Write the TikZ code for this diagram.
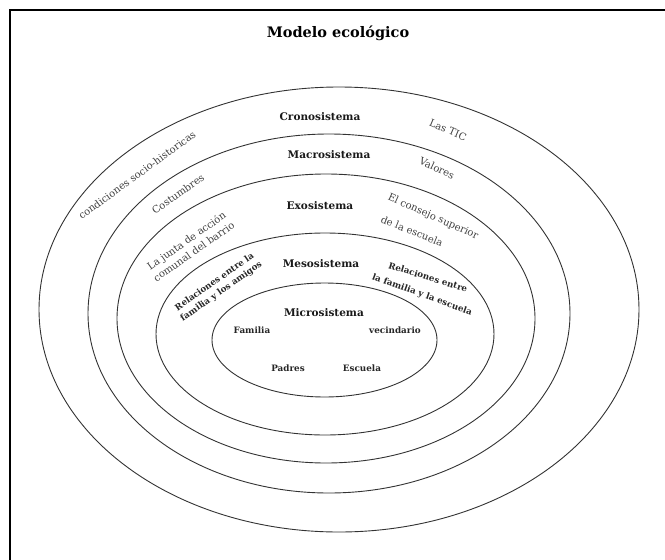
\documentclass[tikz,border=0pt]{standalone}
\usepackage{fontspec}
\setmainfont{DejaVu Serif}
\begin{document}
\begin{tikzpicture}[x=1pt,y=-1pt,
  ring/.style={draw=black!80, line width=0.9pt},
  sys/.style={font=\bfseries\fontsize{10.5}{12}\selectfont, text=black!90, inner sep=0pt},
  lab/.style={font=\fontsize{10}{13}\selectfont, text=black!75, inner sep=0pt, align=center},
  blab/.style={font=\bfseries\fontsize{8.7}{11.5}\selectfont, text=black!85, inner sep=0pt, align=center},
  item/.style={font=\bfseries\fontsize{8.8}{10}\selectfont, text=black!85, inner sep=0pt}]
\useasboundingbox (0,0) rectangle (665,560);
\draw[line width=2pt, line join=miter] (10,560) -- (10,10) -- (665,10);
\node[font=\bfseries\fontsize{14.5}{17}\selectfont, inner sep=0pt] (title) at (338,33) {Modelo ecológico};
% rings
\draw[ring] (339,309.5) ellipse [x radius=300pt, y radius=222.5pt];
\draw[ring] (329,313.5) ellipse [x radius=241pt, y radius=179.5pt];
\draw[ring] (326,318.5) ellipse [x radius=209pt, y radius=144.5pt];
\draw[ring] (325,334) ellipse [x radius=169pt, y radius=101pt];
\draw[ring] (324.5,340) ellipse [x radius=112.5pt, y radius=57pt];
% system names
\node[sys] (cro) at (320,117) {Cronosistema};
\node[sys] (mac) at (329,155) {Macrosistema};
\node[sys] (exo) at (320,206) {Exosistema};
\node[sys] (mes) at (321,264) {Mesosistema};
\node[sys] (mic) at (324,313) {Microsistema};
% left labels
\node[lab, rotate=36] (csh) at (137,175) {condiciones socio-historicas};
\node[lab, rotate=35] (cos) at (178,194) {Costumbres};
\node[lab, rotate=35] (jac) at (190,246) {La junta de acción\\comunal del barrio};
\node[blab, rotate=35] (rfa) at (218,287) {Relaciones entre la\\familia y los amigos};
% right labels
\node[lab, rotate=-23] (tic) at (448,130) {Las TIC};
\node[lab, rotate=-25] (val) at (437,168) {Valores};
\node[lab, rotate=-24] (ecs1) at (433,217) {El consejo superior};
\node[lab, rotate=-22] (ecs2) at (412,231) {de la escuela};
\node[blab, rotate=-17] (rfe1) at (428,277) {Relaciones entre};
\node[blab, rotate=-20] (rfe2) at (422,295) {la familia y la escuela};
% microsystem items
\node[item] (fam) at (252,330) {Familia};
\node[item] (vec) at (395,330) {vecindario};
\node[item] (pad) at (288,368) {Padres};
\node[item] (esc) at (362,368) {Escuela};
\end{tikzpicture}
\end{document}
